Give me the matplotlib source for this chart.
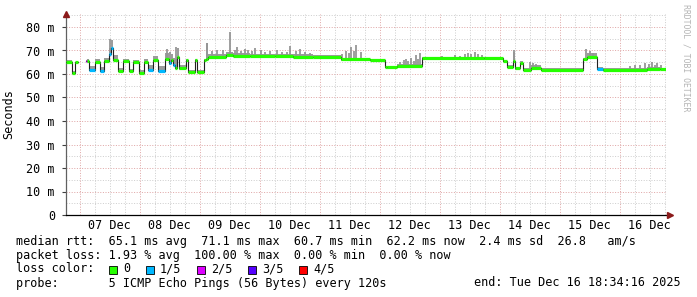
import numpy as np
import matplotlib
matplotlib.use("Agg")
import matplotlib.pyplot as plt
from matplotlib.patches import Rectangle

plt.rcParams['font.family'] = 'DejaVu Sans Mono'
plt.rcParams['font.size'] = 8.5

# hours relative to Dec 7 00:00; graph runs Dec 6 18:34 .. Dec 16 18:34
t_start = -5.43
t_end = 234.57

# median rtt (ms) as steps: segment start hour, value, loss (0..5), top of smoke
seg_hours = [-5.4, -3.0, -1.8, -0.8, 2.6, 3.0, 3.8, 6.2, 8.2, 9.8, 11.8, 12.6,
             13.4, 15.4, 17.4, 19.8, 21.4, 23.8, 25.8, 27.4, 29.4, 31.4, 34.2,
             35.8, 36.6, 37.4, 38.2, 39.0, 39.8, 42.6, 43.4, 46.2, 47.0, 49.8,
             50.6, 51.4, 58.6, 61.4, 68.2, 78.2, 85.4, 93.4, 104.6, 116.2,
             122.2, 123.0, 127.0, 137.0, 161.8, 169.4, 171.0, 173.4, 174.2,
             176.2, 177.4, 180.6, 184.6, 201.4, 203.0, 207.0, 209.4, 227.0, 232.2]
seg_median = [65.3, 60.6, 65.2, np.nan, 65.5, 65.5, 61.7, 65.2, 61.4, 65.5, 68.5, 70.9,
              66.0, 61.2, 65.5, 61.2, 65.2, 60.6, 65.2, 61.7, 65.9, 61.4, 66.4,
              64.5, 66.0, 63.8, 62.6, 67.4, 62.4, 66.0, 61.0, 66.0, 61.0, 66.0,
              66.5, 67.4, 68.1, 67.8, 67.6, 67.8, 67.4, 67.1, 66.2, 65.9,
              63.1, 62.8, 63.4, 66.7, 66.6, 65.6, 63.1, 65.6, 62.4,
              64.5, 61.7, 62.6, 61.7, 66.4, 67.1, 62.2, 61.8, 62.2, 62.0]
seg_loss = [0, 0, 0, 0, 2, 0, 1, 0, 1, 0, 1, 1,
            0, 0, 0, 0, 0, 0, 0, 1, 0, 1, 0,
            1, 0, 1, 0, 0, 0, 0, 0, 0, 0, 0,
            0, 0, 0, 0, 0, 0, 0, 0, 0, 0,
            0, 0, 0, 0, 0, 0, 0, 0, 0,
            0, 0, 0, 0, 0, 0, 1, 0, 0, 0]
seg_smoke = [65.8, 61.2, 65.8, np.nan, 66.0, 66.5, 63.5, 66.5, 63.0, 67.0, 71.0, 74.5,
             68.0, 62.5, 66.5, 62.0, 66.0, 61.5, 66.5, 64.0, 67.5, 63.5, 69.0,
             69.5, 68.5, 67.0, 66.5, 71.0, 64.0, 66.5, 61.5, 66.5, 61.5, 66.5,
             73.0, 68.6, 69.2, 68.8, 68.6, 68.7, 68.3, 67.9, 67.0, 66.5,
             63.6, 63.5, 64.4, 67.4, 67.3, 66.0, 64.0, 69.5, 63.0,
             65.5, 62.4, 64.0, 62.4, 67.0, 69.0, 63.0, 62.4, 63.0, 62.7]

# single tall smoke spikes
spike_hours = [12.2, 35.0, 38.6, 51.0, 53.0, 55.0, 57.2, 60.2, 62.0, 63.0, 64.4,
               66.0, 67.2, 69.0, 70.2, 72.4, 74.0, 76.2, 79.0, 81.0, 83.0, 84.2,
               86.4, 88.0, 90.2, 92.0, 105.0, 106.6, 107.8, 108.6, 109.8, 110.6,
               112.4, 128.0, 129.6, 130.6, 131.4, 132.6, 133.8, 134.6, 135.4,
               136.2, 145.0, 150.0, 152.0, 154.0, 155.2, 156.4, 158.0, 159.4,
               161.0, 173.6, 180.2, 181.4, 182.6, 202.6, 204.0, 205.4, 220.0,
               222.0, 224.0, 226.2, 227.8, 229.0, 230.0, 231.0, 232.4]
spike_top = [75.0, 70.5, 71.5, 73.0, 69.8, 70.2, 70.0, 78.0, 70.4, 71.5, 69.8,
             70.5, 70.0, 69.6, 71.0, 70.2, 69.5, 69.8, 70.4, 69.5, 69.4, 72.0,
             69.6, 70.5, 69.2, 69.0, 68.5, 69.8, 68.8, 71.5, 69.6, 72.5,
             69.4, 65.0, 65.8, 66.5, 65.6, 66.8, 65.4, 68.0, 66.2,
             69.0, 67.5, 68.0, 67.8, 68.5, 69.0, 68.4, 69.5, 68.6,
             68.2, 70.0, 65.0, 64.6, 64.2, 70.5, 69.6, 68.8, 63.6,
             64.0, 63.8, 64.5, 64.2, 65.0, 64.0, 64.5, 63.8]

day_labels = ['07 Dec', '08 Dec', '09 Dec', '10 Dec', '11 Dec',
              '12 Dec', '13 Dec', '14 Dec', '15 Dec', '16 Dec']

loss_colors = ['#26ff00', '#00b8ff', '#dd00ff', '#5500ff', '#ff0000']
loss_names = ['0', '1/5', '2/5', '3/5', '4/5']

stats_lines = [
    "median rtt:  65.1 ms avg  71.1 ms max  60.7 ms min  62.2 ms now  2.4 ms sd  26.8   am/s",
    "packet loss: 1.93 % avg  100.00 % max  0.00 % min  0.00 % now",
]
probe_text = "probe:       5 ICMP Echo Pings (56 Bytes) every 120s"
end_text = "end: Tue Dec 16 18:34:16 2025"

W, H = 697, 297
fig = plt.figure(figsize=(W / 100, H / 100), dpi=100)
fig.patch.set_facecolor('white')

ax_l, ax_r, ax_b, ax_t = 66, 666, 215, 14
ax = fig.add_axes([ax_l / W, 1 - ax_b / H, (ax_r - ax_l) / W, (ax_b - ax_t) / H])
ax.set_xlim(t_start, t_end)
ax.set_ylim(0, (ax_b - ax_t) / 2.35)

# grid
minor_c = '#cfcfcf'
major_c = '#e0a8a8'
dot = (0, (1, 1.6))
for y in np.arange(5, 86, 5):
    c = major_c if y % 10 == 0 else minor_c
    ax.axhline(y, color=c, lw=0.72, ls=dot, zorder=1)
for h in np.arange(-0.0, t_end, 6):
    c = major_c if h % 24 == 0 else minor_c
    ax.axvline(h, color=c, lw=0.72, ls=dot, zorder=1)

t = np.array(seg_hours + [t_end])
med = np.array(seg_median)
smoke = np.array(seg_smoke)

# smoke
ax.fill_between(t, np.append(med - 0.5, med[-1] - 0.5), np.append(smoke, smoke[-1]),
                step='post', color='#9c9c9c', lw=0, zorder=2)
idx = np.searchsorted(t, spike_hours, side='right') - 1
ax.vlines(spike_hours, med[idx], spike_top, color='#969696', lw=1.3, zorder=2)

# median: dark connecting line + loss coloured steps
ax.step(t, np.append(med, med[-1]), where='post', color='#202020', lw=0.8, zorder=3)
for i in range(len(seg_median)):
    if np.isnan(seg_median[i]):
        continue
    ax.hlines(seg_median[i], t[i], t[i + 1], color=loss_colors[seg_loss[i]],
              lw=2.3, zorder=4)

# axes
for s in ['top', 'right']:
    ax.spines[s].set_visible(False)
ax.spines['left'].set_color('#606060')
ax.spines['bottom'].set_color('#000000')
ax.spines['left'].set_linewidth(0.9)
ax.spines['bottom'].set_linewidth(0.9)
ax.set_yticks(np.arange(0, 81, 10))
ax.set_yticklabels(['0'] + ['%d m' % v for v in range(10, 81, 10)])
ax.tick_params(axis='y', length=3, width=0.8, color='#404040', pad=5)
ax.set_xticks(np.arange(12, 24 * 10, 24))
ax.set_xticklabels(day_labels)
ax.tick_params(axis='x', length=0, pad=3)
ax.set_ylabel('Seconds', labelpad=8)
ax.yaxis.set_label_coords(-0.085, 0.5)

arrow_c = '#8b1a1a'
ax.plot([0], [1.0], marker='^', ms=4, color=arrow_c, transform=ax.transAxes,
        clip_on=False, zorder=6)
ax.plot([1.006], [0], marker='>', ms=4, color=arrow_c, transform=ax.transAxes,
        clip_on=False, zorder=6)

fig.text(686 / W, 1 - 4 / H, 'RRDTOOL / TOBI OETIKER', rotation=270,
         ha='center', va='top', fontsize=5.9, color='#b4b4b4')

# legend text
for k, line in enumerate(stats_lines):
    fig.text(16 / W, 1 - (241 + 14 * k) / H, line, ha='left', va='center')
fig.text(16 / W, 1 - 269 / H, 'loss color:', ha='left', va='center')
box_x = [109, 146, 197, 248, 299]
for bx, c, name in zip(box_x, loss_colors, loss_names):
    fig.patches.append(Rectangle((bx / W, 1 - 273.5 / H), 8 / W, 8 / H,
                                 transform=fig.transFigure, facecolor=c,
                                 edgecolor='#000000', lw=0.6))
    fig.text((bx + 14) / W, 1 - 269 / H, name, ha='left', va='center')
fig.text(16 / W, 1 - 283 / H, probe_text, ha='left', va='center')
fig.text(681 / W, 1 - 283 / H, end_text, ha='right', va='center')

fig.savefig('out.png', dpi=100)
